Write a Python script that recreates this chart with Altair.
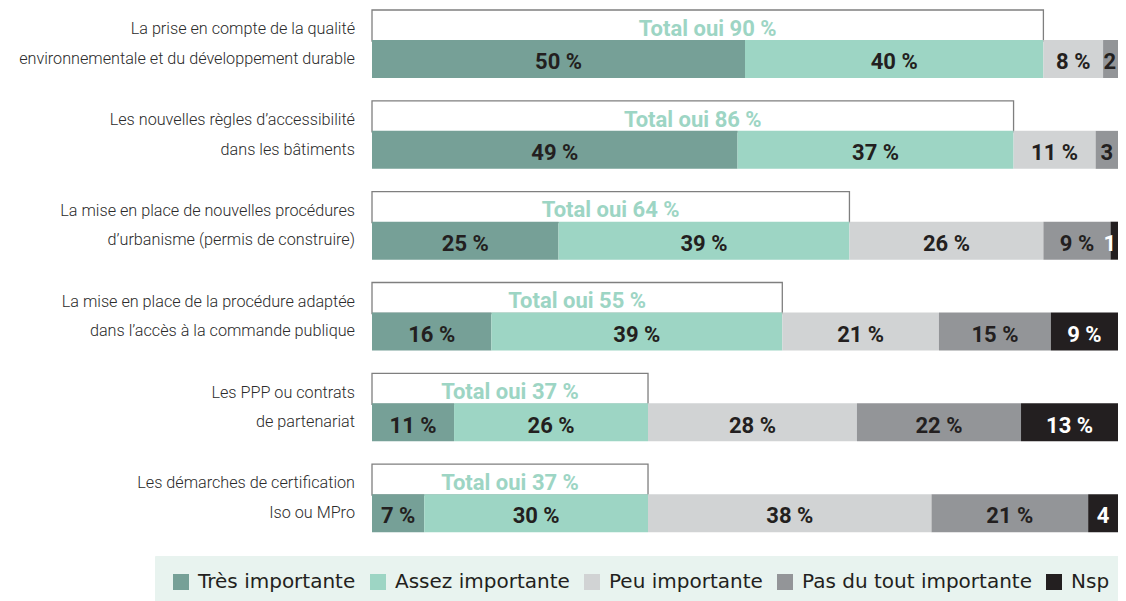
import altair as alt
import pandas as pd

categories = [
    "La prise en compte de la qualité\nenvironnementale et du développement durable",
    "Les nouvelles règles d’accessibilité\ndans les bâtiments",
    "La mise en place de nouvelles procédures\nd’urbanisme (permis de construire)",
    "La mise en place de la procédure adaptée\ndans l’accès à la commande publique",
    "Les PPP ou contrats\nde partenariat",
    "Les démarches de certification\nIso ou MPro",
]
responses = ["Très importante", "Assez importante", "Peu importante", "Pas du tout importante", "Nsp"]
colors = ["#76A097", "#9DD5C4", "#D1D3D4", "#939598", "#231F20"]

tres = [50, 49, 25, 16, 11, 7]
assez = [40, 37, 39, 39, 26, 30]
peu = [8, 11, 26, 21, 28, 38]
pas_du_tout = [2, 3, 9, 15, 22, 21]
nsp = [0, 0, 1, 9, 13, 4]
total_oui = [90, 86, 64, 55, 37, 37]

series = [tres, assez, peu, pas_du_tout, nsp]
rows = []
for ci, cat in enumerate(categories):
    for ri, resp in enumerate(responses):
        v = series[ri][ci]
        rows.append({
            "category": cat,
            "response": resp,
            "value": v,
            "order": ri,
            "label": (f"{v} %" if v >= 5 else f"{v}") if v > 0 else "",
            "tcolor": "#FFFFFF" if resp == "Nsp" else "#231F20",
        })
df = pd.DataFrame(rows)
tot = pd.DataFrame({"category": categories, "total": total_oui,
                    "tlabel": [f"Total oui {t} %" for t in total_oui]})

FONT = "Roboto, 'Liberation Sans', sans-serif"

yenc = alt.Y("category:N", sort=categories, axis=None,
             scale=alt.Scale(paddingInner=0, paddingOuter=0))
xscale = alt.Scale(domain=[0, 100], nice=False, zero=True)

box = alt.Chart(tot).mark_bar(size=31, yOffset=-27.9, fill="white", stroke="#7F7F7F",
                               strokeWidth=1.3).encode(
    x=alt.X("total:Q", scale=xscale, axis=None), y=yenc)

total_text = alt.Chart(tot).mark_text(yOffset=-24.7, font=FONT, fontSize=22, fontWeight="bold",
                                      color="#9DD5C4", baseline="middle", align="center").encode(
    x=alt.X("mid:Q", scale=xscale, axis=None), y=yenc, text="tlabel:N"
).transform_calculate(mid="datum.total / 2")

bars = alt.Chart(df).mark_bar(size=38, yOffset=5.6).encode(
    x=alt.X("value:Q", stack="zero", scale=xscale, axis=None),
    y=yenc,
    order=alt.Order("order:Q"),
    color=alt.Color("response:N", sort=responses,
                    scale=alt.Scale(domain=responses, range=colors),
                    legend=alt.Legend(title=None, orient="none", legendX=-217, legendY=548,
                                      direction="horizontal", columns=5)),
)

value_text = alt.Chart(df).transform_stack(
    stack="value", groupby=["category"], sort=[alt.SortField("order")], as_=["v0", "v1"]
).transform_calculate(mid="min((datum.v0 + datum.v1) / 2, 98.9)").transform_filter(
    "datum.value > 0").mark_text(
    yOffset=8.8, font=FONT, fontSize=22, fontWeight="bold", baseline="middle", align="center"
).encode(
    x=alt.X("mid:Q", scale=xscale, axis=None), y=yenc, text="label:N",
    color=alt.Color("tcolor:N", scale=None),
)

cat_text = alt.Chart(tot).mark_text(
    x=-17, yOffset=-24.2, align="right", baseline="middle", font=FONT, fontSize=16.2,
    fontWeight=300, color="#2B2B2B", lineBreak="\n", lineHeight=29.5
).encode(y=yenc, text="category:N")

chart = alt.layer(box, total_text, bars, value_text, cat_text).properties(
    width=746, height=545,
    padding={"left": 364, "top": 0, "right": 0, "bottom": 50},
    autosize=alt.AutoSizeParams(type="none"),
).configure_view(stroke=None).configure_legend(
    symbolType="square", symbolSize=256, symbolStrokeWidth=0, symbolOpacity=1,
    labelFont="DejaVu Sans", labelFontSize=20, labelColor="#231F20", labelOffset=7,
    columnPadding=12, padding=16, fillColor="#E8F3EF", labelLimit=400, strokeColor="#E8F3EF",
)

chart.save("out.html", embed_options={"renderer": "svg", "actions": False})
